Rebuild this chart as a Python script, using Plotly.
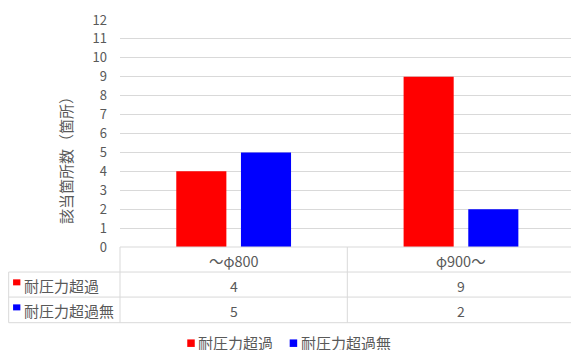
import plotly.graph_objects as go

categories = ["～φ800", "φ900～"]
series_names = ["耐圧力超過", "耐圧力超過無"]
series_colors = ["#ff0000", "#0000ff"]
over = [4, 9]
not_over = [5, 2]
series_values = [over, not_over]
y_ticks = list(range(0, 13))
y_title = "該当箇所数（箇所）"

W, H = 571, 350
L, T, R, B = 119.7, 20.0, 0.0, 103.3
plot_w = W - L - R
plot_h = H - T - B
x_range = [-0.5, 1.484]

FONT = "Noto Sans CJK JP"
TXT = "#595959"
GRID = "#d9d9d9"

def px_to_paper_x(px):
    return (px - L) / plot_w

def px_to_paper_y(py):
    return (H - B - py) / plot_h

def data_to_paper_x(xv):
    return (xv - x_range[0]) / (x_range[1] - x_range[0])

fig = go.Figure()
for name, vals, col in zip(series_names, series_values, series_colors):
    fig.add_trace(go.Bar(
        x=categories, y=vals, name=name,
        marker=dict(color=col, line=dict(width=0)),
        hoverinfo="skip", showlegend=False,
    ))

shapes = []
line = dict(color=GRID, width=1)
right_px = W
for py, x0px in [(246.7, L), (271.7, 8.3), (296.7, 8.3), (322.3, 8.3)]:
    shapes.append(dict(type="line", xref="paper", yref="paper",
                       x0=px_to_paper_x(x0px), x1=px_to_paper_x(right_px),
                       y0=px_to_paper_y(py), y1=px_to_paper_y(py), line=line))
shapes.append(dict(type="line", xref="paper", yref="paper",
                   x0=px_to_paper_x(8.3), x1=px_to_paper_x(8.3),
                   y0=px_to_paper_y(271.7), y1=px_to_paper_y(322.3), line=line))
for i in range(len(categories)):
    xp = data_to_paper_x(i - 0.5)
    shapes.append(dict(type="line", xref="paper", yref="paper",
                       x0=xp, x1=xp,
                       y0=px_to_paper_y(246.7), y1=px_to_paper_y(322.3), line=line))

def key_square(x0, x1, y0, y1, col):
    return dict(type="rect", xref="paper", yref="paper",
                x0=px_to_paper_x(x0), x1=px_to_paper_x(x1),
                y0=px_to_paper_y(y1), y1=px_to_paper_y(y0),
                fillcolor=col, line=dict(width=0), layer="above")

annotations = []
header_y = 260.5
row_y = [285.5, 310.5]
for i, c in enumerate(categories):
    annotations.append(dict(text=c, x=i, xref="x", y=px_to_paper_y(header_y), yref="paper",
                            showarrow=False, xanchor="center", yanchor="middle",
                            font=dict(family=FONT, size=14.5, color=TXT)))
for r, (name, vals, col) in enumerate(zip(series_names, series_values, series_colors)):
    yp = px_to_paper_y(row_y[r])
    annotations.append(dict(text=name, x=px_to_paper_x(22), xref="paper", y=yp, yref="paper",
                            showarrow=False, xanchor="left", yanchor="middle",
                            font=dict(family=FONT, size=15, color=TXT)))
    shapes.append(key_square(12.7, 20, row_y[r] - 6.5, row_y[r] - 0.5, col))
    for i, v in enumerate(vals):
        annotations.append(dict(text=str(v), x=i, xref="x", y=yp, yref="paper",
                                showarrow=False, xanchor="center", yanchor="middle",
                                font=dict(family=FONT, size=14, color=TXT)))

# legend (keys + labels)
legend_y = 342.5
legend_items_x = [(187.0, 196.0), (289.5, 298.5)]
for (mx, tx), name, col in zip(legend_items_x, series_names, series_colors):
    shapes.append(key_square(mx, mx + 7.5, legend_y - 3.5, legend_y + 4, col))
    annotations.append(dict(text=name, x=px_to_paper_x(tx), xref="paper",
                            y=px_to_paper_y(legend_y), yref="paper",
                            showarrow=False, xanchor="left", yanchor="middle",
                            font=dict(family=FONT, size=15, color=TXT)))

# y-axis title
annotations.append(dict(text=y_title, textangle=-90, x=px_to_paper_x(65), xref="paper",
                        y=px_to_paper_y(156.5), yref="paper", showarrow=False,
                        xanchor="center", yanchor="middle",
                        font=dict(family=FONT, size=15, color=TXT)))

fig.update_layout(
    width=W, height=H,
    margin=dict(l=L, r=R, t=T, b=B, pad=0, autoexpand=False),
    paper_bgcolor="white", plot_bgcolor="white",
    barmode="group", bargap=0.431, bargroupgap=0.2255,
    font=dict(family=FONT, size=13, color=TXT),
    xaxis=dict(type="category", range=x_range, showticklabels=False, showgrid=False,
               zeroline=False, showline=False, ticks="", fixedrange=True),
    yaxis=dict(range=[0, 12], tickvals=y_ticks, ticktext=[str(t) for t in y_ticks],
               showgrid=True, gridcolor=GRID, gridwidth=1, zeroline=False, showline=False,
               ticks="", ticklabelstandoff=12,
               tickfont=dict(family=FONT, size=13, color=TXT),
               fixedrange=True),
    showlegend=False,
    shapes=shapes, annotations=annotations,
)

fig.write_html("out.html", config={"displayModeBar": False})
